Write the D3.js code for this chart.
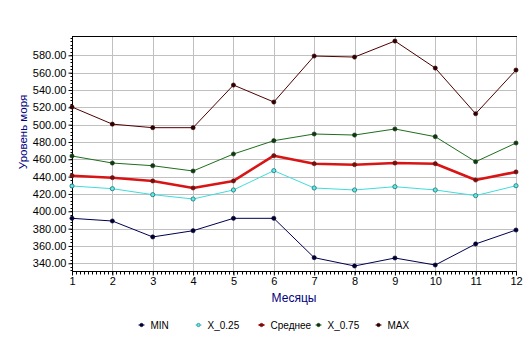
<!DOCTYPE html>
<html>
<head>
<meta charset="utf-8">
<script src="https://cdn.jsdelivr.net/npm/d3@7"></script>
<style>
  html, body { margin: 0; padding: 0; background: #fff; }
  svg { display: block; font-family: "Liberation Sans", Arial, sans-serif; }
</style>
</head>
<body>
<svg id="chart" width="532" height="347"></svg>
<script>
// Monthly sea level statistics
const months = [1, 2, 3, 4, 5, 6, 7, 8, 9, 10, 11, 12];
const seriesNames = ["MIN", "X_0.25", "Среднее", "X_0.75", "MAX"];
const minValues    = [391.9, 388.8, 370.4, 377.6, 391.9, 391.9, 346.5, 336.9, 346.1, 338.0, 362.3, 378.4];
const q25Values    = [429.2, 426.1, 419.2, 414.2, 424.6, 446.9, 426.9, 424.6, 428.4, 424.6, 418.1, 429.5];
const meanValues   = [441.1, 438.8, 435.0, 426.9, 435.0, 464.2, 454.9, 453.8, 455.7, 454.9, 436.1, 445.4];
const q75Values    = [463.8, 455.7, 452.6, 446.5, 466.1, 481.5, 489.2, 488.0, 495.0, 486.1, 457.2, 478.8];
const maxValues    = [520.3, 500.6, 496.5, 496.5, 545.7, 526.1, 579.2, 578.0, 596.5, 565.3, 512.6, 563.0];
const yTicks = [340, 360, 380, 400, 420, 440, 460, 480, 500, 520, 540, 560, 580];
const yTitle = "Уровень моря";
const xTitle = "Месяцы";

const styles = [
  { color: "#000050", marker: "#000030", width: 1 },
  { color: "#40dcdc", marker: "#207878", width: 1 },
  { color: "#d81414", marker: "#701010", width: 2.6 },
  { color: "#1e6e1e", marker: "#103810", width: 1 },
  { color: "#500000", marker: "#300000", width: 1 }
];
const seriesValues = [minValues, q25Values, meanValues, q75Values, maxValues];

const svg = d3.select("#chart");
const plotLeft = 72, plotRight = 516, plotTop = 36, plotBottom = 271;

const x = d3.scaleLinear().domain([1, 12]).range([plotLeft, plotRight]);
const y = d3.scaleLinear().domain([331.1, 602.3]).range([plotBottom, plotTop]);

// grid
const grid = svg.append("g").attr("stroke", "#c0c0c0").attr("stroke-width", 1);
grid.selectAll("line.h").data(yTicks).join("line")
  .attr("x1", plotLeft).attr("x2", plotRight)
  .attr("y1", d => Math.round(y(d)) + 0.5).attr("y2", d => Math.round(y(d)) + 0.5);
grid.selectAll("line.v").data(months.slice(1)).join("line")
  .attr("y1", plotTop).attr("y2", plotBottom)
  .attr("x1", d => Math.round(x(d)) + 0.5).attr("x2", d => Math.round(x(d)) + 0.5);

// top frame
svg.append("line").attr("x1", plotLeft).attr("x2", plotRight + 1)
  .attr("y1", plotTop + 0.5).attr("y2", plotTop + 0.5).attr("stroke", "#000");

// y axis with minor ticks
const yMinor = d3.range(332, 602, 4);
const yAxisG = svg.append("g").attr("transform", `translate(${plotLeft + 0.5},0)`);
yAxisG.selectAll("line.minor").data(yMinor).join("line")
  .attr("x1", -2).attr("x2", 0)
  .attr("y1", d => Math.round(y(d)) + 0.5).attr("y2", d => Math.round(y(d)) + 0.5)
  .attr("stroke", "#000");
const yAxis = d3.axisLeft(y).tickValues(yTicks).tickFormat(d3.format(".2f"))
  .tickSize(4).tickPadding(2);
yAxisG.call(yAxis);
yAxisG.select(".domain").attr("d", `M0,${plotTop}V${plotBottom + 0.5}`);
yAxisG.selectAll("text").attr("font-size", 11).attr("fill", "#000")
  .attr("font-family", "Liberation Sans, Arial, sans-serif");

// x axis with minor ticks
const xMinor = d3.range(1, 12.001, 0.1);
const xAxisG = svg.append("g").attr("transform", `translate(0,${plotBottom + 0.5})`);
xAxisG.selectAll("line.minor").data(xMinor).join("line")
  .attr("y1", 0).attr("y2", 3)
  .attr("x1", d => Math.round(x(d)) + 0.5).attr("x2", d => Math.round(x(d)) + 0.5)
  .attr("stroke", "#000");
const xAxis = d3.axisBottom(x).tickValues(months).tickFormat(d3.format("d"))
  .tickSize(4).tickPadding(2);
xAxisG.call(xAxis);
xAxisG.select(".domain").attr("d", `M${plotLeft},0H${plotRight + 1}`);
xAxisG.selectAll("text").attr("font-size", 11).attr("fill", "#000")
  .attr("font-family", "Liberation Sans, Arial, sans-serif");

// axis titles
svg.append("text").attr("x", (plotLeft + plotRight) / 2).attr("y", 302)
  .attr("text-anchor", "middle").attr("font-size", 12).attr("fill", "#000080")
  .text(xTitle);
svg.append("text").attr("transform", "translate(27,132) rotate(-90)")
  .attr("text-anchor", "middle").attr("font-size", 11.5).attr("fill", "#000080")
  .text(yTitle);

// series lines and markers
const line = d3.line().x((d, i) => x(months[i])).y(d => y(d));
seriesValues.forEach((vals, k) => {
  const st = styles[k];
  svg.append("path").datum(vals).attr("d", line)
    .attr("fill", "none").attr("stroke", st.color).attr("stroke-width", st.width)
    .attr("stroke-linejoin", "round");
  svg.append("g").selectAll("circle").data(vals).join("circle")
    .attr("cx", (d, i) => x(months[i])).attr("cy", d => y(d)).attr("r", 2.1)
    .attr("fill", k === 1 ? "#60e8e8" : st.marker)
    .attr("stroke", k === 1 ? "#1e6e6e" : st.marker)
    .attr("stroke-width", k === 1 ? 0.8 : 0.6);
});

// legend
const legendX = [141.5, 198.5, 261.5, 318.5, 378.5];
const legendY = 325;
seriesNames.forEach((name, k) => {
  const st = styles[k];
  const g = svg.append("g").attr("transform", `translate(${legendX[k]},${legendY})`);
  g.append("line").attr("x1", -3).attr("x2", 3).attr("y1", 0).attr("y2", 0)
    .attr("stroke", st.color).attr("stroke-width", k === 2 ? 2 : 1);
  g.append("circle").attr("r", 1.7).attr("fill", k === 1 ? "#60e8e8" : st.marker)
    .attr("stroke", k === 1 ? "#1e6e6e" : st.marker).attr("stroke-width", 0.6);
  g.append("text").attr("x", 9).attr("y", 3.5).attr("font-size", 10).attr("fill", "#000")
    .text(name);
});
</script>
</body>
</html>
